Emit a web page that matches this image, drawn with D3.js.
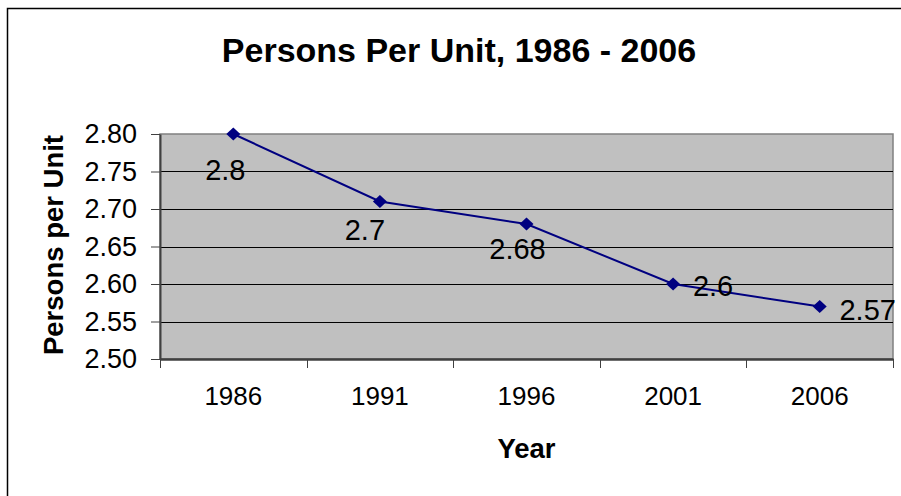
<!DOCTYPE html>
<html>
<head>
<meta charset="utf-8">
<script src="https://cdn.jsdelivr.net/npm/d3@7"></script>
<style>
  body { margin: 0; background: #fff; }
  text { font-family: "Liberation Sans", Arial, sans-serif; fill: #000; }
  .grid line { stroke: #000; stroke-width: 1; }
  .axis path, .axis line { stroke: #404040; }
</style>
</head>
<body>
<div id="chart"></div>
<script>
// chart data
var years = ["1986", "1991", "1996", "2001", "2006"];
var persons = [2.80, 2.71, 2.68, 2.60, 2.57];
var pointLabels = ["2.8", "2.7", "2.68", "2.6", "2.57"];
var yTicks = [2.50, 2.55, 2.60, 2.65, 2.70, 2.75, 2.80];

// where Excel put each data label, relative to its point
var labelDx = [-8, -15, -9, 40, 48];
var labelDy = [36, 28, 25, 2, 3];

var width = 901, height = 496;
var plot = { left: 160, top: 134, right: 893, bottom: 359 };

var svg = d3.select("#chart")
  .append("svg")
  .attr("width", width)
  .attr("height", height);

// outer chart frame (cut off at right and bottom)
svg.append("path")
  .attr("d", "M7.5,496 V8.5 H901")
  .attr("fill", "none")
  .attr("stroke", "#000")
  .attr("stroke-width", 1.5);

var x = d3.scaleBand()
  .domain(years)
  .range([plot.left, plot.right])
  .padding(0);

var y = d3.scaleLinear()
  .domain([2.5, 2.8])
  .range([plot.bottom, plot.top]);

// plot background
svg.append("rect")
  .attr("x", plot.left)
  .attr("y", plot.top)
  .attr("width", plot.right - plot.left)
  .attr("height", plot.bottom - plot.top)
  .attr("fill", "#c0c0c0")
  .attr("stroke", "#808080")
  .attr("stroke-width", 1.5);

// horizontal gridlines
svg.append("g")
  .attr("class", "grid")
  .selectAll("line")
  .data(yTicks.slice(1, -1))
  .enter()
  .append("line")
  .attr("x1", plot.left)
  .attr("x2", plot.right)
  .attr("y1", function(d) { return Math.round(y(d)) + 0.5; })
  .attr("y2", function(d) { return Math.round(y(d)) + 0.5; });

// y axis
var yAxis = svg.append("g")
  .attr("class", "axis")
  .attr("transform", "translate(" + plot.left + ",0)")
  .call(d3.axisLeft(y).tickValues(yTicks).tickFormat(d3.format(".2f")).tickSize(9).tickPadding(14).tickSizeOuter(0));
yAxis.select(".domain").attr("stroke-width", 2);
yAxis.selectAll("text").attr("font-size", 27).attr("fill", "#000");

// x axis: ticks on category boundaries
var xAxis = svg.append("g")
  .attr("class", "axis")
  .attr("transform", "translate(0," + plot.bottom + ")")
  .call(d3.axisBottom(x).tickSize(0).tickPadding(28).tickSizeOuter(0));
xAxis.select(".domain").attr("stroke-width", 2.5);
xAxis.selectAll("text").attr("font-size", 26).attr("fill", "#000");
xAxis.selectAll(".bound")
  .data(years.concat(["end"]))
  .enter()
  .append("line")
  .attr("class", "bound")
  .attr("x1", function(d, i) { return Math.round(i < years.length ? x(d) : plot.right) + 0.5; })
  .attr("x2", function(d, i) { return Math.round(i < years.length ? x(d) : plot.right) + 0.5; })
  .attr("y1", 0)
  .attr("y2", 9);

// line
var line = d3.line()
  .x(function(d, i) { return x(years[i]) + x.bandwidth() / 2; })
  .y(function(d) { return y(d); });

svg.append("path")
  .datum(persons)
  .attr("d", line)
  .attr("fill", "none")
  .attr("stroke", "#000080")
  .attr("stroke-width", 2);

// diamond markers
svg.selectAll(".marker")
  .data(persons)
  .enter()
  .append("path")
  .attr("class", "marker")
  .attr("d", "M0,-6.5 L7,0 L0,6.5 L-7,0 Z")
  .attr("fill", "#000080")
  .attr("transform", function(d, i) {
    return "translate(" + (x(years[i]) + x.bandwidth() / 2) + "," + y(d) + ")";
  });

// data labels
svg.selectAll(".label")
  .data(persons)
  .enter()
  .append("text")
  .attr("class", "label")
  .attr("x", function(d, i) { return x(years[i]) + x.bandwidth() / 2 + labelDx[i]; })
  .attr("y", function(d, i) { return y(d) + labelDy[i]; })
  .attr("dy", "0.36em")
  .attr("text-anchor", "middle")
  .attr("font-size", 29)
  .text(function(d, i) { return pointLabels[i]; });

// title
svg.append("text")
  .attr("x", 459)
  .attr("y", 62)
  .attr("text-anchor", "middle")
  .attr("font-size", 34)
  .attr("font-weight", "bold")
  .text("Persons Per Unit, 1986 - 2006");

// axis titles
svg.append("text")
  .attr("transform", "translate(63," + 245 + ") rotate(-90)")
  .attr("text-anchor", "middle")
  .attr("font-size", 27.5)
  .attr("font-weight", "bold")
  .text("Persons per Unit");

svg.append("text")
  .attr("x", (plot.left + plot.right) / 2)
  .attr("y", 458)
  .attr("text-anchor", "middle")
  .attr("font-size", 27.5)
  .attr("font-weight", "bold")
  .text("Year");
</script>
</body>
</html>
